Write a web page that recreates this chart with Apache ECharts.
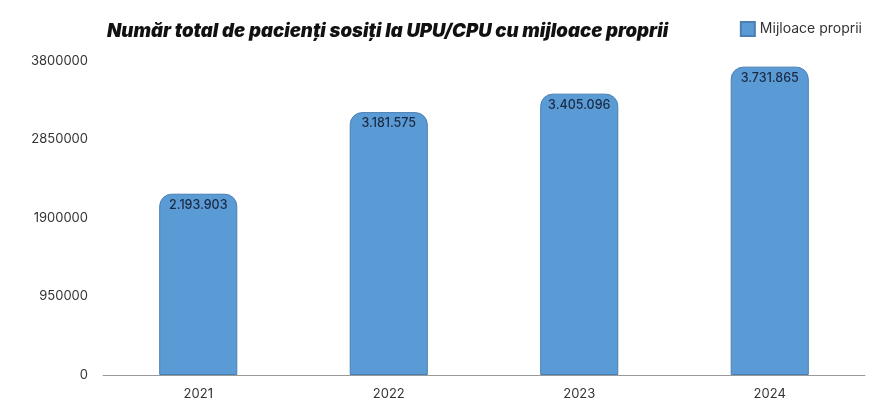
<!DOCTYPE html>
<html>
<head>
<meta charset="utf-8">
<script src="https://cdn.jsdelivr.net/npm/echarts@6/dist/echarts.min.js"></script>
<style>html,body{margin:0;padding:0;background:#fff;}#c{width:872px;height:403px;}</style>
</head>
<body>
<div id="c"></div>
<script>
const categories = ['2021', '2022', '2023', '2024'];
const values = [2193903, 3181575, 3405096, 3731865];
const yTicks = [0, 950000, 1900000, 2850000, 3800000];
const seriesName = 'Mijloace proprii';
const titleText = 'Număr total de pacienți sosiți la UPU/CPU cu mijloace proprii';

function fmt(v) { return String(v).replace(/\B(?=(\d{3})+(?!\d))/g, '.'); }

const chart = echarts.init(document.getElementById('c'));
chart.setOption({
  backgroundColor: '#ffffff',
  animation: false,
  title: {
    text: titleText,
    left: 102, top: 17,
    textStyle: { fontFamily: 'Inter', fontWeight: 900, fontStyle: 'italic', fontSize: 18.6, color: '#111' }
  },
  legend: {
    right: 5, top: 16,
    itemWidth: 14, itemHeight: 14,
    itemGap: 6,
    icon: 'rect',
    textStyle: { fontFamily: 'Inter', fontSize: 14, color: '#333' },
    data: [seriesName]
  },
  grid: { left: 103, right: 7, top: 61, bottom: 28 },
  xAxis: {
    type: 'category',
    data: categories,
    axisLine: { lineStyle: { color: '#999', width: 1 } },
    axisTick: { show: false },
    axisLabel: { fontFamily: 'Inter', fontSize: 13, color: '#333', margin: 13 }
  },
  yAxis: {
    type: 'value',
    min: yTicks[0], max: yTicks[yTicks.length - 1], interval: yTicks[1] - yTicks[0],
    splitLine: { show: false },
    axisLine: { show: false },
    axisTick: { show: false },
    axisLabel: { fontFamily: 'Inter', fontSize: 13, color: '#333', margin: 15, formatter: v => String(v) }
  },
  series: [{
    name: seriesName,
    type: 'bar',
    data: values,
    barWidth: '41%',
    itemStyle: { color: '#5b9bd5', borderColor: '#4a7fb3', borderWidth: 1, borderRadius: [12, 12, 0, 0] },
    label: {
      show: true, position: 'insideTop', distance: 5,
      formatter: p => fmt(p.value),
      fontFamily: 'Inter', fontSize: 12.5, fontWeight: 500, color: '#1b2a44'
    }
  }]
});
</script>
</body>
</html>
